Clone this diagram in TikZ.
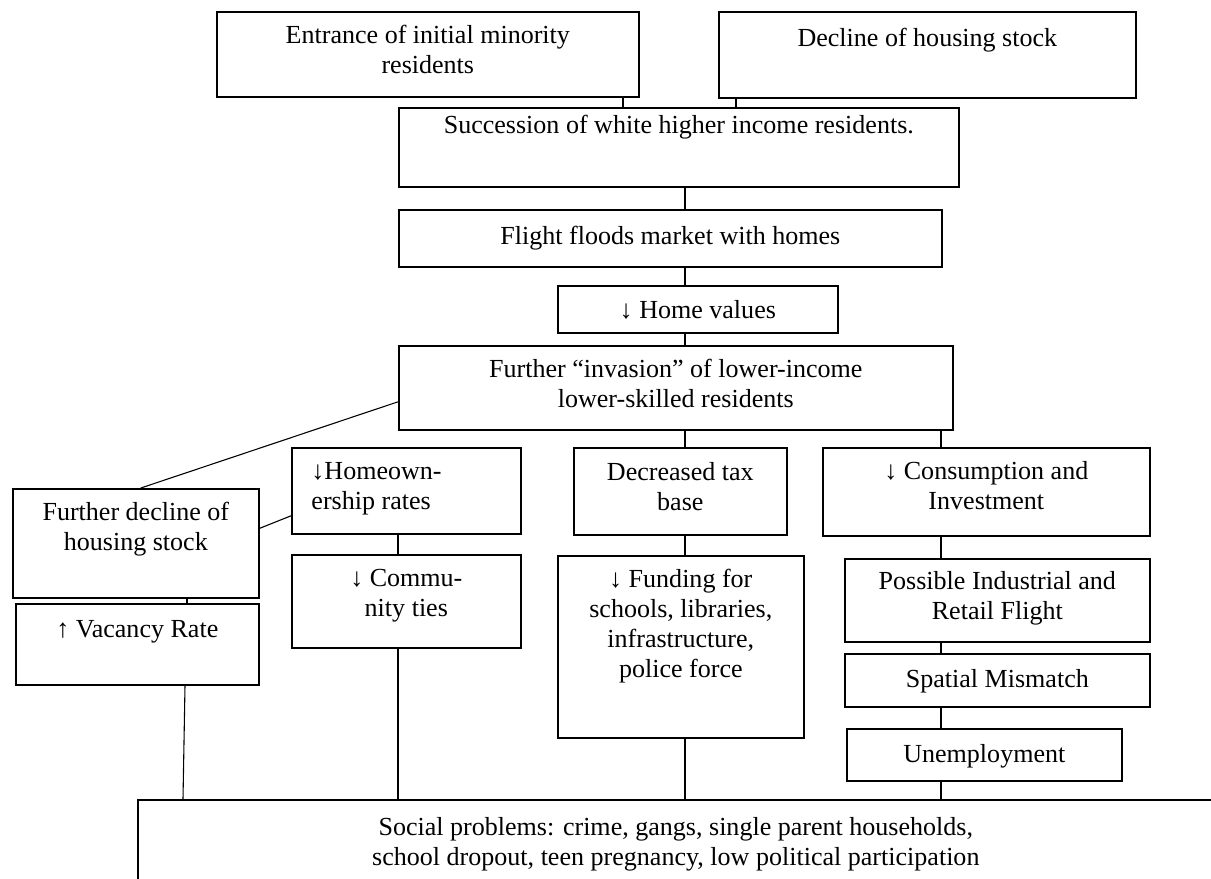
\documentclass[tikz,border=0pt]{standalone}
\usepackage{fontspec}
\setmainfont{Liberation Serif}
\newlength{\px}
\setlength{\px}{0.4608pt}

\begin{document}
\begin{tikzpicture}[
  x=0.4608pt, y=-0.4608pt,
  box/.style={rectangle, draw=black, line width=0.75pt, inner sep=0pt,
              anchor=north west},
  boxtext/.style={align=center, inner sep=0pt, anchor=north,
                  font=\fontsize{12}{13.8}\selectfont,
                  execute at begin node=\strut},
  link/.style={line width=0.5pt}
]
\path[use as bounding box] (0,0) rectangle (1211,878);
\clip (0,0) rectangle (1211,878);

% Row 1 — causes
\node[box, minimum width=422*\px, minimum height=85*\px] (entrance) at (216,11) {};
\node[boxtext] (entrance-t) at ([yshift=-14*\px]entrance.north) {Entrance of initial minority\\residents};
\node[box, minimum width=417*\px, minimum height=86*\px] (decline) at (718,11) {};
\node[boxtext] (decline-t) at ([yshift=-14*\px]decline.north) {Decline of housing stock};

% Central chain
\node[box, minimum width=560*\px, minimum height=79*\px] (succession) at (398,107) {};
\node[boxtext] (succession-t) at ([yshift=-5*\px]succession.north) {Succession of white higher income residents.};
\node[box, minimum width=543*\px, minimum height=57*\px] (flight) at (398,209) {};
\node[boxtext] (flight-t) at ([yshift=-14*\px]flight.north) {Flight floods market with homes};
\node[box, minimum width=280*\px, minimum height=47*\px] (homevalues) at (557,285) {};
\node[boxtext] (homevalues-t) at ([yshift=-12*\px]homevalues.north) {↓ Home values};
\node[box, minimum width=554*\px, minimum height=84*\px] (invasion) at (398,345) {};
\node[boxtext] (invasion-t) at ([yshift=-14*\px]invasion.north) {Further “invasion” of lower-income\\lower-skilled residents};

% Left branch — housing
\node[box, minimum width=246*\px, minimum height=109*\px] (furtherdecl) at (12,488) {};
\node[boxtext] (furtherdecl-t) at ([yshift=-14*\px]furtherdecl.north) {Further decline of\\housing stock};
\node[box, minimum width=243*\px, minimum height=81*\px] (vacancy) at (15,603) {};
\node[boxtext] (vacancy-t) at ([yshift=-13*\px]vacancy.north) {↑ Vacancy Rate};
\node[box, minimum width=229*\px, minimum height=86*\px] (homeown) at (291,447) {};
\node[boxtext, align=left, anchor=north west] (homeown-t) at ([xshift=20*\px, yshift=-15*\px]homeown.north west) {↓Homeown-\\ership rates};
\node[box, minimum width=229*\px, minimum height=93*\px] (community) at (291,554) {};
\node[boxtext] (community-t) at ([yshift=-15*\px]community.north) {↓ Commu-\\nity ties};

% Middle branch — taxes
\node[box, minimum width=213*\px, minimum height=87*\px] (taxbase) at (573,447) {};
\node[boxtext] (taxbase-t) at ([yshift=-15*\px]taxbase.north) {Decreased tax\\base};
\node[box, minimum width=246*\px, minimum height=182*\px] (funding) at (557,555) {};
\node[boxtext] (funding-t) at ([yshift=-14*\px]funding.north) {↓ Funding for\\schools, libraries,\\infrastructure,\\police force};

% Right branch — economy
\node[box, minimum width=327*\px, minimum height=88*\px] (consumption) at (822,447) {};
\node[boxtext] (consumption-t) at ([yshift=-14*\px]consumption.north) {↓ Consumption and\\Investment};
\node[box, minimum width=305*\px, minimum height=83*\px] (retail) at (844,558) {};
\node[boxtext] (retail-t) at ([yshift=-13*\px]retail.north) {Possible Industrial and\\Retail Flight};
\node[box, minimum width=305*\px, minimum height=53*\px] (mismatch) at (844,653) {};
\node[boxtext] (mismatch-t) at ([yshift=-13*\px]mismatch.north) {Spatial Mismatch};
\node[box, minimum width=275*\px, minimum height=52*\px] (unemployment) at (846,728) {};
\node[boxtext] (unemployment-t) at ([yshift=-13*\px]unemployment.north) {Unemployment};

% Outcome (runs off the page)
\node[box, minimum width=1076*\px, minimum height=120*\px] (social) at (137,799) {};
\node[boxtext] (social-t) at ([yshift=-18*\px]social.north) {Social problems: crime, gangs, single parent households,\\school dropout, teen pregnancy, low political participation};

% Connector columns
\coordinate (c1) at (623,0);
\coordinate (c2) at (736,0);
\coordinate (mid) at (685,0);
\coordinate (left) at (398,0);
\coordinate (right) at (941,0);
\coordinate (vac) at (187,0);
\coordinate (v1) at (185,0);
\coordinate (v2) at (183,0);

% Connectors
\draw[link] (entrance.south -| c1) -- (succession.north -| c1);
\draw[link] (decline.south -| c2) -- (succession.north -| c2);
\draw[link] (succession.south -| mid) -- (flight.north -| mid);
\draw[link] (flight.south -| mid) -- (homevalues.north -| mid);
\draw[link] (homevalues.south -| mid) -- (invasion.north -| mid);
\draw[link] (invasion.south -| mid) -- (taxbase.north -| mid);
\draw[link] (taxbase.south -| mid) -- (funding.north -| mid);
\draw[link] (funding.south -| mid) -- (social.north -| mid);
\draw[link] (invasion.south -| right) -- (consumption.north -| right);
\draw[link] (consumption.south -| right) -- (retail.north -| right);
\draw[link] (retail.south -| right) -- (mismatch.north -| right);
\draw[link] (mismatch.south -| right) -- (unemployment.north -| right);
\draw[link] (unemployment.south -| right) -- (social.north -| right);
\draw[link] ([yshift=-14*\px]invasion.west) -- ([xshift=5*\px]furtherdecl.north);
\draw[link] ([yshift=-25*\px]homeown.west) -- ([yshift=15*\px]furtherdecl.east);
\draw[link] (homeown.south -| left) -- (community.north -| left);
\draw[link] (community.south -| left) -- (social.north -| left);
\draw[link] (furtherdecl.south -| vac) -- (vacancy.north -| vac);
\draw[link] (vacancy.south -| v1) -- (social.north -| v2);

\end{tikzpicture}
\end{document}
